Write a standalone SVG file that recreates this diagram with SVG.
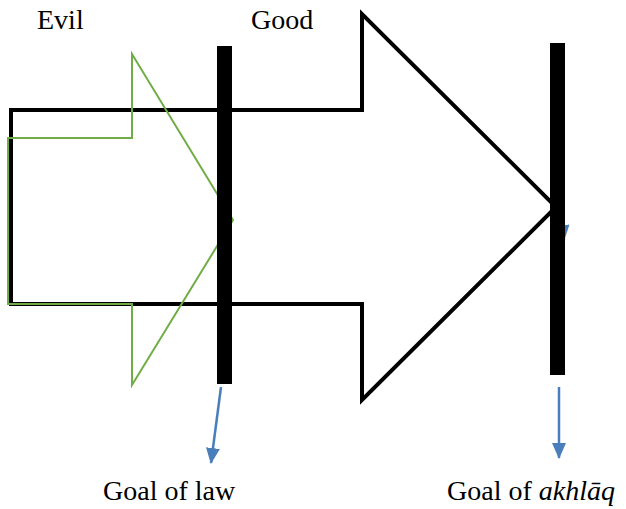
<svg xmlns="http://www.w3.org/2000/svg" width="626" height="509" viewBox="0 0 626 509">
<style>
.lbl{font-family:"Liberation Serif","Times New Roman",Times,serif;font-size:28px;fill:#000}
.bar{fill:#000}
.blue{stroke:#4A7EBB;stroke-width:2.5;fill:none}
</style>
<defs>
<marker id="ah" viewBox="0 0 16 14" refX="15" refY="7" markerWidth="16" markerHeight="14" markerUnits="userSpaceOnUse" orient="auto">
<path d="M0,0 L16,7 L0,14 Z" fill="#4A7EBB"/>
</marker>
</defs>
<rect width="626" height="509" fill="#fff"/>
<g id="big-arrow">
<polygon points="11,110 362,110 362,14 556,207 362,400 362,304 11,304" fill="none" stroke="#000" stroke-width="4" stroke-linejoin="miter"/>
</g>
<g id="small-arrow">
<polygon points="8,138 132,138 132,54 233,220 132,385 132,304 8,304" fill="none" stroke="#70AD47" stroke-width="2"/>
</g>
<g id="connectors">
<line class="blue" x1="560" y1="200" x2="564" y2="240" marker-end="url(#ah)"/>
<line class="blue" x1="221" y1="387" x2="211" y2="463" marker-end="url(#ah)"/>
<line class="blue" x1="559" y1="387" x2="559" y2="458" marker-end="url(#ah)"/>
</g>
<g id="bar-law">
<rect class="bar" x="217" y="46" width="15" height="338"/>
</g>
<g id="bar-akhlaq">
<rect class="bar" x="550" y="43" width="15" height="332"/>
</g>
<g id="labels">
<text class="lbl" x="37" y="29">Evil</text>
<text class="lbl" x="251" y="29">Good</text>
<text class="lbl" x="103" y="500">Goal of law</text>
<text class="lbl" x="447" y="500">Goal of <tspan font-style="italic">akhlāq</tspan></text>
</g>
</svg>
